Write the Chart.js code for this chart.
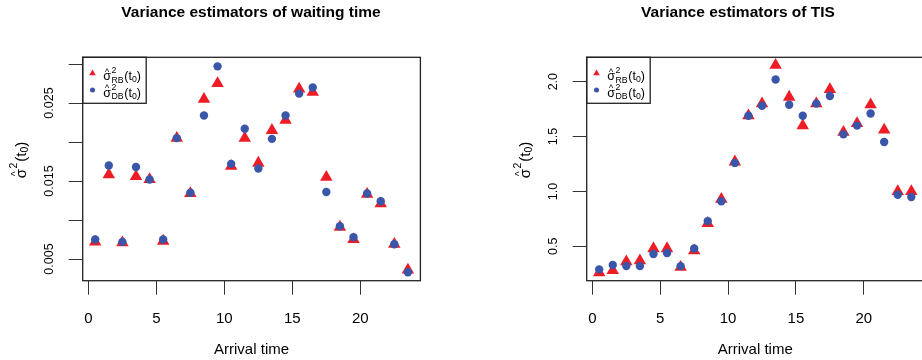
<!DOCTYPE html>
<html>
<head>
<meta charset="utf-8">
<script src="https://cdn.jsdelivr.net/npm/chart.js@4.4.1/dist/chart.umd.min.js"></script>
<style>
  html, body { margin: 0; padding: 0; background: #fff; overflow: hidden; width: 922px; height: 360px; }
  .panel { position: absolute; top: 0; height: 360px; }
  #left { left: 0; width: 461px; }
  #right { left: 461px; width: 470px; }
</style>
</head>
<body>
<div class="panel" id="left"><canvas id="waitChart"></canvas></div>
<div class="panel" id="right"><canvas id="tisChart"></canvas></div>
<script>
const arrivalTimes = [0.5, 1.5, 2.5, 3.5, 4.5, 5.5, 6.5, 7.5, 8.5, 9.5, 10.5, 11.5,
  12.5, 13.5, 14.5, 15.5, 16.5, 17.5, 18.5, 19.5, 20.5, 21.5, 22.5, 23.5];
const xTicks = [0, 5, 10, 15, 20];

const waitRB = [0.0072, 0.0158, 0.0071, 0.0156, 0.0152, 0.0073, 0.0205, 0.0134, 0.0255, 0.0275, 0.0169, 0.0205,
  0.0173, 0.0215, 0.0228, 0.0268, 0.0264, 0.0155, 0.0091, 0.0075, 0.0133, 0.0121, 0.0069, 0.0036];
const waitDB = [0.0075, 0.0170, 0.0072, 0.0168, 0.0152, 0.0075, 0.0205, 0.0135, 0.0234, 0.0297, 0.0172, 0.0217,
  0.0166, 0.0204, 0.0234, 0.0262, 0.0270, 0.0136, 0.0092, 0.0078, 0.0134, 0.0124, 0.0069, 0.0033];
const waitTicks = [0.005, 0.010, 0.015, 0.020, 0.025, 0.030];
const waitTickLabels = ['0.005', '', '0.015', '', '0.025', ''];

const tisRB = [0.26, 0.28, 0.36, 0.37, 0.48, 0.48, 0.31, 0.46, 0.71, 0.93, 1.27, 1.69,
  1.80, 2.15, 1.86, 1.60, 1.80, 1.93, 1.54, 1.62, 1.79, 1.56, 1.00, 1.00];
const tisDB = [0.29, 0.33, 0.32, 0.32, 0.43, 0.44, 0.32, 0.48, 0.73, 0.91, 1.26, 1.69,
  1.78, 2.02, 1.79, 1.69, 1.80, 1.87, 1.52, 1.60, 1.71, 1.45, 0.97, 0.95];
const tisTicks = [0.5, 1.0, 1.5, 2.0];
const tisTickLabels = ['0.5', '1.0', '1.5', '2.0'];

const RED = '#ee1c25';
const BLUE = '#3a56a8';
const FAMILY = '"Liberation Sans", Arial, Helvetica, sans-serif';

// sigma-hat squared, optional subscript, then (t0); returns width
const drawSigma = (ctx, x, y, size, sub, draw) => {
  const small = size * 0.7;
  const put = (txt, px, py, fs) => {
    ctx.font = `${fs}px ${FAMILY}`;
    const w = ctx.measureText(txt).width;
    if (draw) ctx.fillText(txt, px, py);
    return w;
  };
  let cx = x;
  const ws = put('σ', cx, y, size);
  ctx.font = `${small}px ${FAMILY}`;
  const wh = ctx.measureText('^').width;
  put('^', cx + (ws - wh) / 2, y - size * 0.45, small);
  cx += ws + size * 0.04;
  const w2 = put('2', cx, y - size * 0.55, small);
  const wsub = sub ? put(sub, cx, y + size * 0.18, small) : 0;
  cx += Math.max(w2, wsub) + size * 0.06;
  cx += put('(', cx, y, size);
  cx += put('t', cx, y, size);
  cx += put('0', cx, y + size * 0.15, small);
  cx += put(')', cx, y, size);
  return cx - x;
};

const figurePlugin = (spec) => ({
  id: 'figure',
  afterDraw(chart) {
    const { ctx, chartArea: ca } = chart;
    const yScale = chart.scales.y;
    ctx.save();
    ctx.fillStyle = '#000';
    ctx.strokeStyle = '#222';

    // box
    ctx.lineWidth = 1.3;
    ctx.strokeRect(ca.left, ca.top, ca.right - ca.left, ca.bottom - ca.top);

    // main title
    ctx.font = `bold 15.5px ${FAMILY}`;
    ctx.textAlign = 'center';
    ctx.textBaseline = 'alphabetic';
    ctx.fillText(spec.title, spec.titleX, 17);

    // y tick labels, parallel to the axis
    ctx.font = `12.5px ${FAMILY}`;
    spec.ticks.forEach((v, i) => {
      const label = spec.tickLabels[i];
      if (!label) return;
      ctx.save();
      ctx.translate(ca.left - 30, yScale.getPixelForValue(v));
      ctx.rotate(-Math.PI / 2);
      ctx.textAlign = 'center';
      ctx.fillText(label, 0, 0);
      ctx.restore();
    });

    // y axis title
    ctx.save();
    ctx.translate(ca.left - 57, 160);
    ctx.rotate(-Math.PI / 2);
    ctx.textAlign = 'left';
    const tw = drawSigma(ctx, 0, 0, 15, '', false);
    drawSigma(ctx, -tw / 2, 0, 15, '', true);
    ctx.restore();

    // legend
    const lx = ca.left, ly = ca.top;
    ctx.lineWidth = 1.3;
    ctx.strokeRect(lx, ly, 63.5, 46);
    const rows = [
      { style: 'triangle', radius: 3.8, color: RED, sub: 'RB', y: ly + 16 },
      { style: 'circle', radius: 2.5, color: BLUE, sub: 'DB', y: ly + 32.7 }
    ];
    ctx.textAlign = 'left';
    rows.forEach((r) => {
      ctx.fillStyle = r.color;
      Chart.helpers.drawPoint(ctx, { pointStyle: r.style, radius: r.radius, borderWidth: 0, rotation: 0 }, lx + 9.8, r.y);
      ctx.fillStyle = '#000';
      drawSigma(ctx, lx + 20.5, r.y + 7, 12.5, r.sub, true);
    });
    ctx.restore();
  }
});

const makeChart = (canvasId, spec) => new Chart(document.getElementById(canvasId), {
  type: 'scatter',
  data: {
    datasets: [
      {
        label: 'DB',
        data: arrivalTimes.map((t, i) => ({ x: t, y: spec.db[i] })),
        pointStyle: 'circle',
        pointRadius: 4.2,
        backgroundColor: BLUE,
        borderWidth: 0,
        order: 0
      },
      {
        label: 'RB',
        data: arrivalTimes.map((t, i) => ({ x: t, y: spec.rb[i] })),
        pointStyle: 'triangle',
        pointRadius: 7.2,
        backgroundColor: RED,
        borderWidth: 0,
        order: 1
      }
    ]
  },
  options: {
    responsive: true,
    maintainAspectRatio: false,
    animation: false,
    events: [],
    layout: { padding: { left: 0, right: spec.padRight, top: 57.3, bottom: 0 } },
    plugins: { legend: { display: false }, tooltip: { enabled: false } },
    scales: {
      x: {
        type: 'linear',
        min: -0.42,
        max: 24.42,
        afterBuildTicks: (s) => { s.ticks = xTicks.map((v) => ({ value: v })); },
        afterFit: (s) => { s.height = 79.3; },
        ticks: { color: '#000', font: { family: FAMILY, size: 15 }, padding: 15, maxRotation: 0, autoSkip: false },
        grid: { drawOnChartArea: false, drawTicks: true, tickLength: 14, color: '#333', lineWidth: 1 },
        border: { display: false },
        title: { display: true, text: 'Arrival time', color: '#000', font: { family: FAMILY, size: 15 }, padding: { top: 0, bottom: 1 } }
      },
      y: {
        type: 'linear',
        min: spec.yMin,
        max: spec.yMax,
        afterBuildTicks: (s) => { s.ticks = spec.ticks.map((v) => ({ value: v })); },
        afterFit: (s) => { s.width = spec.axisWidth; },
        ticks: { display: false },
        grid: { drawOnChartArea: false, drawTicks: true, tickLength: 14, color: '#333', lineWidth: 1 },
        border: { display: false }
      }
    }
  },
  plugins: [figurePlugin(spec)]
});

makeChart('waitChart', {
  title: 'Variance estimators of waiting time',
  titleX: 251,
  rb: waitRB,
  db: waitDB,
  ticks: waitTicks,
  tickLabels: waitTickLabels,
  yMin: 0.00222,
  yMax: 0.03086,
  axisWidth: 82.7,
  padRight: 40.6
});

makeChart('tisChart', {
  title: 'Variance estimators of TIS',
  titleX: 277,
  rb: tisRB,
  db: tisDB,
  ticks: tisTicks,
  tickLabels: tisTickLabels,
  yMin: 0.187,
  yMax: 2.222,
  axisWidth: 125.7,
  padRight: 6.6
});
</script>
</body>
</html>
